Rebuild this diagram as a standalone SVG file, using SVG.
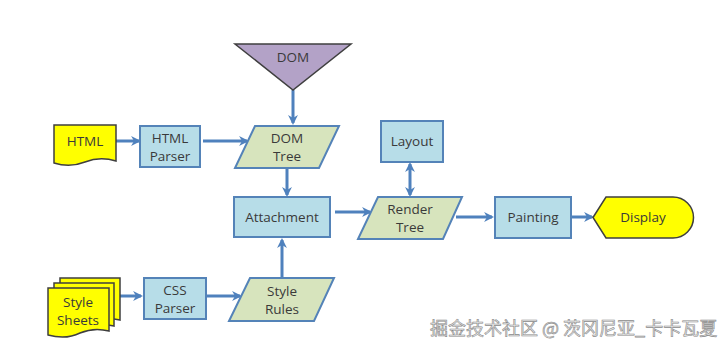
<svg xmlns="http://www.w3.org/2000/svg" width="723" height="351" viewBox="0 0 723 351">
<style>
.box{fill:#b7dde8;stroke:#5483b8;stroke-width:2}
.para{fill:#d7e4bd;stroke:#5483b8;stroke-width:2}
.yel{fill:#ffff00;stroke:#3f3f3f;stroke-width:1.5}
.tri{fill:#b3a2c7;stroke:#3f3f3f;stroke-width:1.5}
.t{font-family:"Open Sans","Liberation Sans",sans-serif;font-size:13.5px;fill:#3a3a3a;text-anchor:middle}
.c line{stroke:#4f81bd;stroke-width:3;fill:none}
.wm{font-family:"Noto Sans CJK SC",sans-serif;font-size:18px;fill:#e8e8e8;stroke:#8a8a8a;stroke-width:0.6}
</style>
<defs>
<marker id="ah" viewBox="0 0 10 10" refX="8" refY="5" markerWidth="3.3" markerHeight="3.3" orient="auto-start-reverse" markerUnits="strokeWidth">
<path d="M0,0 L10,5 L0,10 L3,5 Z" fill="#4f81bd"/>
</marker>
</defs>
<rect width="723" height="351" fill="#fff"/>
<g class="c" id="connectors">
<line x1="293" y1="90" x2="293" y2="123" marker-end="url(#ah)"/>
<line x1="116" y1="141" x2="139" y2="141" marker-end="url(#ah)"/>
<line x1="203" y1="141" x2="247" y2="141" marker-end="url(#ah)"/>
<line x1="287" y1="168" x2="287" y2="195" marker-end="url(#ah)"/>
<line x1="335" y1="212" x2="370" y2="212" marker-end="url(#ah)"/>
<line x1="410" y1="164" x2="410" y2="195" marker-start="url(#ah)" marker-end="url(#ah)"/>
<line x1="456" y1="217" x2="492" y2="217" marker-end="url(#ah)"/>
<line x1="572" y1="217" x2="592" y2="217" marker-end="url(#ah)"/>
<line x1="118" y1="296" x2="141" y2="296" marker-end="url(#ah)"/>
<line x1="207" y1="296" x2="240" y2="296" marker-end="url(#ah)"/>
<line x1="282" y1="278" x2="282" y2="240" marker-end="url(#ah)"/>
</g>
<g id="dom">
<polygon class="tri" points="235,44 351,44 293,90"/>
<text class="t" x="293" y="62">DOM</text>
</g>
<g id="html">
<path class="yel" d="M54,125 H116 V161 Q100,156 85,162 Q70,168 54,163 Z"/>
<text class="t" x="85" y="146">HTML</text>
</g>
<g id="htmlparser">
<rect class="box" x="140" y="126" width="60" height="41"/>
<text class="t" x="170" y="143">HTML</text>
<text class="t" x="170" y="161">Parser</text>
</g>
<g id="domtree">
<polygon class="para" points="255,126 339,126 319,168 235,168"/>
<text class="t" x="287" y="143">DOM</text>
<text class="t" x="287" y="161">Tree</text>
</g>
<g id="layout">
<rect class="box" x="381" y="121" width="62" height="41"/>
<text class="t" x="412" y="146">Layout</text>
</g>
<g id="attachment">
<rect class="box" x="234" y="197" width="96" height="40"/>
<text class="t" x="282" y="222">Attachment</text>
</g>
<g id="rendertree">
<polygon class="para" points="378,197 462,197 443,239 358,239"/>
<text class="t" x="410" y="214">Render</text>
<text class="t" x="410" y="232">Tree</text>
</g>
<g id="painting">
<rect class="box" x="495" y="197" width="76" height="41"/>
<text class="t" x="533" y="222">Painting</text>
</g>
<g id="display">
<path class="yel" d="M593,217.5 L606,197 H673 A20.5,20.5 0 0 1 673,238 H606 Z"/>
<text class="t" x="643" y="222">Display</text>
</g>
<g id="stylesheets">
<path class="yel" d="M60,278 H120 V320 Q105,316 92,322 Q78,328 60,324 Z"/>
<path class="yel" d="M54,283 H114 V326 Q99,322 86,328 Q72,334 54,330 Z"/>
<path class="yel" d="M48,288 H109 V331 Q94,327 80,333 Q66,340 48,335 Z"/>
<text class="t" x="78" y="307">Style</text>
<text class="t" x="78" y="325">Sheets</text>
</g>
<g id="cssparser">
<rect class="box" x="144" y="278" width="62" height="41"/>
<text class="t" x="175" y="295">CSS</text>
<text class="t" x="175" y="313">Parser</text>
</g>
<g id="stylerules">
<polygon class="para" points="250,278 334,278 314,321 229,321"/>
<text class="t" x="282" y="296">Style</text>
<text class="t" x="282" y="314">Rules</text>
</g>
<text class="wm" x="430" y="335">掘金技术社区 @ 茨冈尼亚_卡卡瓦夏</text>
</svg>
